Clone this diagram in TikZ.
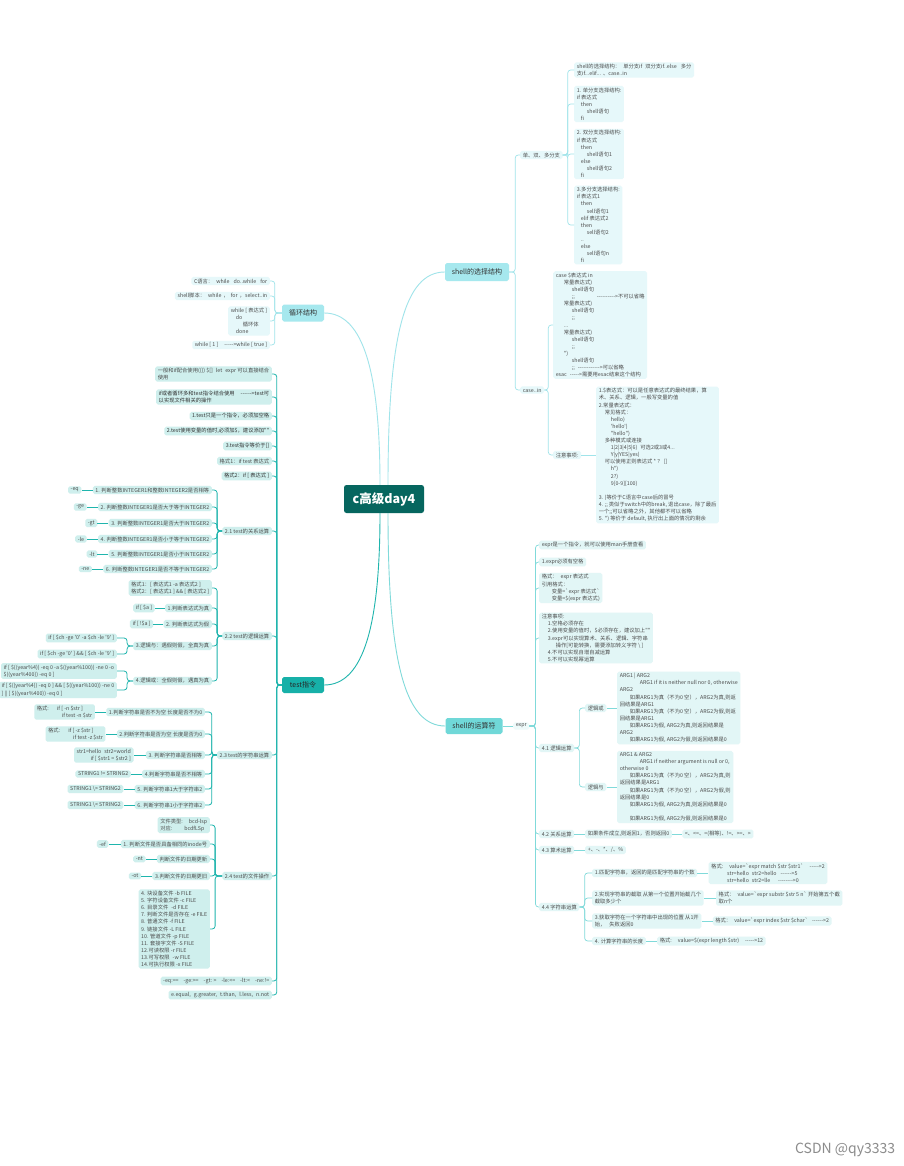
\documentclass[tikz,border=0pt]{standalone}
\usepackage{fontspec}
\setmainfont{Noto Sans CJK SC}[Ligatures=TeXOff]
\usetikzlibrary{calc}
\newcommand\fsm{\fontsize{5.3}{7.1}\selectfont}
\newcommand\fmid{\fontsize{7}{8}\selectfont}
\definecolor{rootf}{HTML}{06665F}
\definecolor{self}{HTML}{A6E8EE}
\definecolor{testf}{HTML}{17B0A8}
\definecolor{opf}{HTML}{70D8D8}
\definecolor{sbf}{HTML}{E6F8FA}
\definecolor{tbf}{HTML}{CFEFED}
\definecolor{obf}{HTML}{E2F6F6}
\definecolor{selc}{HTML}{A0E4EA}
\definecolor{testc}{HTML}{1FB5AD}
\definecolor{opc}{HTML}{80DADA}
\definecolor{txt}{HTML}{4D4D4D}
\begin{document}
\begin{tikzpicture}[x=1pt,y=-1pt,
 every node/.style={font=\fsm, text=txt, align=left, inner xsep=2.6pt, inner ysep=1.6pt, rounded corners=1.8pt},
 sb/.style={fill=sbf},
 tb/.style={fill=tbf},
 ob/.style={fill=obf},
 sl/.style={draw=selc, line width=0.7pt, rounded corners=3pt},
 tl/.style={draw=testc, line width=0.8pt, rounded corners=3pt},
 ol/.style={draw=opc, line width=0.7pt, rounded corners=3pt}]
\fill[white] (0,0) rectangle (903,1166);
\path[use as bounding box] (0,0) rectangle (903,1166);
\clip (0,0) rectangle (903,1166);

% ---------- main nodes
\node[fill=rootf, text=white, font=\fontsize{12.5}{14}\selectfont\bfseries, minimum width=80pt, minimum height=28pt, rounded corners=2.5pt] (root) at (384,499) {c高级day4};
\node[fill=self, font=\fmid, text=black!80, minimum width=64pt, minimum height=18pt] (sel) at (477,272) {shell的选择结构};
\node[fill=self, font=\fmid, text=black!80, minimum width=42pt, minimum height=17pt] (loop) at (303,313) {循环结构};
\node[fill=testf, font=\fmid, text=black!85, minimum width=42pt, minimum height=16pt] (test) at (303,685) {test指令};
\node[fill=opf, font=\fmid, text=black!80, minimum width=57pt, minimum height=16pt] (op) at (474,726) {shell的运算符};

\draw[selc, line width=0.9pt] ([xshift=4pt]root.north) .. controls +(0,-150) and +(-40,0) .. (sel.west);
\draw[selc, line width=0.9pt] ([xshift=-4pt]root.north) .. controls +(0,-110) and +(40,0) .. (loop.east);
\draw[testc, line width=0.9pt] ([xshift=-4pt]root.south) .. controls +(0,110) and +(40,0) .. (test.east);
\draw[opc, line width=0.9pt] ([xshift=4pt]root.south) .. controls +(0,150) and +(-40,0) .. (op.west);

% ---------- shell selection
\node[sb, anchor=west] (dsd) at (520,155) {单、双、多分支};
\node[sb, anchor=west] (casein) at (520,390) {case..in};
\foreach \c in {dsd,casein} \draw[sl] (sel.east) -- ++(6,0) |- (\c.west);

\node[sb, anchor=west] (s1) at (574,70) {shell的选择结构：\hspace{3pt}单分支if\hspace{3pt}双分支if..else\hspace{4pt}多分\\支if...elif...\hspace{2pt}、case..in};
\node[sb, anchor=west] (s2) at (574,104) {1. 单分支选择结构:\\if 表达式\\\hspace*{4pt}then\\\hspace*{10pt}shell语句\\\hspace*{4pt}fi};
\node[sb, anchor=west] (s3) at (574,154) {2. 双分支选择结构:\\if 表达式\\\hspace*{4pt}then\\\hspace*{10pt}shell语句1\\\hspace*{4pt}else\\\hspace*{10pt}shell语句2\\\hspace*{4pt}fi};
\node[sb, anchor=west] (s4) at (574,225) {3.多分支选择结构:\\if 表达式1\\\hspace*{4pt}then\\\hspace*{10pt}sell语句1\\\hspace*{4pt}elif 表达式2\\\hspace*{4pt}then\\\hspace*{10pt}sell语句2\\\hspace*{4pt}..\\\hspace*{4pt}else\\\hspace*{10pt}sell语句n\\\hspace*{4pt}fi};
\foreach \c in {s1,s2,s3,s4} \draw[sl] (dsd.east) -- ++(5,0) |- (\c.west);

\node[sb, anchor=west] (c1) at (553,325) {case \$表达式 in\\
\hspace*{8pt}常量表达式)\\
\hspace*{16pt}shell语句\\
\hspace*{16pt};;\hspace{22pt}---------->不可以省略\\
\hspace*{8pt}常量表达式)\\
\hspace*{16pt}shell语句\\
\hspace*{16pt};;\\
\hspace*{8pt}...\\
\hspace*{8pt}常量表达式)\\
\hspace*{16pt}shell语句\\
\hspace*{16pt};;\\
\hspace*{8pt}*)\\
\hspace*{16pt}shell语句\\
\hspace*{16pt};;\hspace{3pt}------------>可以省略\\
esac\hspace{3pt}----->需要用esac结束这个结构};
\node[sb, anchor=west] (c2) at (553,455) {注意事项:};
\foreach \c in {c1,c2} \draw[sl] (casein.east) -- ++(4,0) |- (\c.west);
\node[sb, anchor=west] (c3) at (596,455) {1.\$表达式：可以是任意表达式的最终结果，算\\
术、关系、逻辑，一般写变量的值\\
2.常量表达式：\\
\hspace*{6pt}常见格式：\\
\hspace*{12pt}hello)\\
\hspace*{12pt}'hello')\\
\hspace*{12pt}"hello")\\
\hspace*{6pt}多种模式或连接\\
\hspace*{12pt}1|2|3|4|5|6)\hspace{3pt}可选2或3或4...\\
\hspace*{12pt}Y|y|YES|yes)\\
\hspace*{6pt}可以使用正则表达式 * ？ []\\
\hspace*{12pt}h*)\\
\hspace*{12pt}2?)\\
\hspace*{12pt}9[0-9][100)\\
\mbox{}\\
3. )等价于C语言中case后的冒号\\
4. ;; 类似于switch中的break, 退出case，除了最后\\
一个;;可以省略之外，其他都不可以省略\\
5. *) 等价于 default, 执行出上面的情况的剩余};
\draw[sl] (c2.east) -- (c3.west);

% ---------- loop
\node[sb, anchor=east] (l1) at (270,281) {C语言：\hspace{3pt}while\hspace{4pt}do..while\hspace{4pt}for};
\node[sb, anchor=east] (l2) at (270,296) {shell脚本：\hspace{3pt}while\hspace{2pt}，\hspace{2pt}for\hspace{2pt}，select..in};
\node[sb, anchor=east] (l3) at (270,321) {while [ 表达式 ]\\\hspace*{5pt}do\\\hspace*{12pt}循环体\\\hspace*{5pt}done};
\node[sb, anchor=east] (l4) at (270,345) {while [ 1 ]\hspace{6pt}----->while [ true ]};
\foreach \c in {l1,l2,l3,l4} \draw[sl] (loop.west) -- ++(-7,0) |- (\c.east);

% ---------- test
\node[tb, anchor=east] (t1) at (272,374) {一般和if配合使用(()) \$[]\hspace{3pt}let\hspace{3pt}expr 可以直接结合\\使用};
\node[tb, anchor=east, text=black!80] (t2) at (272,397) {if或者循环多和test指令结合使用\hspace{6pt}------>test可\\以实现文件相关的操作};
\node[tb, anchor=east, text=black!80] (t3) at (272,416) {1.test只是一个指令，必须加空格};
\node[tb, anchor=east, text=black!80] (t4) at (272,431) {2.test使用变量的值时,必须加\$，建议添加""};
\node[tb, anchor=east, text=black!80] (t5) at (272,446) {3.test指令等价于[]};
\node[tb, anchor=east] (t6) at (272,461) {格式1：if test 表达式};
\node[tb, anchor=east, text=black!80] (t7) at (272,476) {格式2：if [ 表达式 ]};
\node[tb, anchor=east] (t21) at (272,531) {2.1 test的关系运算};
\node[tb, anchor=east] (t22) at (272,636) {2.2 test的逻辑运算};
\node[tb, anchor=east] (t23) at (272,755) {2.3 test的字符串运算};
\node[tb, anchor=east] (t24) at (272,876) {2.4 test的文件操作};
\node[tb, anchor=east] (t8) at (272,981) {-eq:==\hspace{5pt}-ge:>=\hspace{5pt}-gt: >\hspace{5pt}-le:<=\hspace{5pt}-lt:<\hspace{5pt}-ne:!=};
\node[tb, anchor=east] (t9) at (272,995) {e.equal,\hspace{3pt}g.greater,\hspace{3pt}t.than,\hspace{3pt}l.less,\hspace{3pt}n.not};
\foreach \c in {t1,t2,t3,t4,t5,t6,t7,t21,t22,t23,t24,t8,t9} \draw[tl] (test.west) -- ++(-5,0) |- (\c.east);

% 2.1
\node[tb, anchor=east] (r1) at (212,490) {1. 判断整数INTEGER1和整数INTEGER2是否相等};
\node[tb, anchor=east] (r2) at (212,507) {2. 判断整数INTEGER1是否大于等于INTEGER2};
\node[tb, anchor=east] (r3) at (212,523) {3. 判断整数INTEGER1是否大于INTEGER2};
\node[tb, anchor=east] (r4) at (212,539) {4. 判断整数INTEGER1是否小于等于INTEGER2};
\node[tb, anchor=east] (r5) at (212,554) {5. 判断整数INTEGER1是否小于INTEGER2};
\node[tb, anchor=east] (r6) at (212,569) {6. 判断整数INTEGER1是否不等于INTEGER2};
\foreach \c in {r1,r2,r3,r4,r5,r6} \draw[tl] (t21.west) -- ++(-5,0) |- (\c.east);
\node[tb, anchor=east] (r1a) at ([xshift=-11pt]r1.west) {-eq};
\node[tb, anchor=east] (r2a) at ([xshift=-11pt]r2.west) {-ge};
\node[tb, anchor=east] (r3a) at ([xshift=-11pt]r3.west) {-gt};
\node[tb, anchor=east] (r4a) at ([xshift=-11pt]r4.west) {-le};
\node[tb, anchor=east] (r5a) at ([xshift=-11pt]r5.west) {-lt};
\node[tb, anchor=east] (r6a) at ([xshift=-11pt]r6.west) {-ne};
\foreach \c in {1,...,6} \draw[tl] (r\c.west) -- (r\c a.east);

% 2.2
\node[tb, anchor=east] (g1) at (212,588) {格式1：[ 表达式1 -a 表达式2 ]\\格式2：[ 表达式1 ] \&\& [ 表达式2 ]};
\node[tb, anchor=east] (g2) at (212,608) {1.判断表达式为真};
\node[tb, anchor=east] (g3) at (212,624) {2. 判断表达式为假};
\node[tb, anchor=east] (g4) at (212,646) {3.逻辑与：遇假则假，全真为真};
\node[tb, anchor=east] (g5) at (212,681) {4.逻辑或：全假则假，遇真为真};
\foreach \c in {g1,g2,g3,g4,g5} \draw[tl] (t22.west) -- ++(-5,0) |- (\c.east);
\node[tb, anchor=east] (g2a) at ([xshift=-10pt]g2.west) {if [ \$a ]};
\node[tb, anchor=east] (g3a) at ([xshift=-10pt]g3.west) {if [ !\$a ]};
\draw[tl] (g2.west) -- (g2a.east);
\draw[tl] (g3.west) -- (g3a.east);
\node[tb, anchor=east] (g4a) at (117,638) {if [ \$ch -ge '0' -a \$ch -le '9' ]};
\node[tb, anchor=east] (g4b) at (117,654) {if [ \$ch -ge '0' ] \&\& [ \$ch -le '9' ]};
\node[tb, anchor=east] (g5a) at (117,671) {if [ \$((year\%4)) -eq 0 -a \$((year\%100)) -ne 0 -o\\\$((year\%400)) -eq 0 ]};
\node[tb, anchor=east] (g5b) at (117,690) {if [ \$((year\%4)) -eq 0 ] \&\& [ \$((year\%100)) -ne 0\\] || [ \$((year\%400)) -eq 0 ]};
\foreach \c in {g4a,g4b} \draw[tl] (g4.west) -- ++(-6,0) |- (\c.east);
\foreach \c in {g5a,g5b} \draw[tl] (g5.west) -- ++(-6,0) |- (\c.east);

% 2.3
\node[tb, anchor=east] (q1) at (205,712) {1.判断字符串是否不为空 长度是否不为0};
\node[tb, anchor=east] (q2) at (205,734) {2.判断字符串是否为空 长度是否为0};
\node[tb, anchor=east] (q3) at (205,755) {3. 判断字符串是否相等};
\node[tb, anchor=east] (q4) at (205,774) {4.判断字符串是否不相等};
\node[tb, anchor=east] (q5) at (205,789) {5. 判断字符串1大于字符串2};
\node[tb, anchor=east] (q6) at (205,805) {6. 判断字符串1小于字符串2};
\foreach \c in {q1,q2,q3,q4,q5,q6} \draw[tl] (t23.west) -- ++(-5,0) |- (\c.east);
\node[tb, anchor=east] (q1a) at ([xshift=-11pt]q1.west) {格式:\hspace{8pt}if [ -n \$str ]\\\hspace*{25pt}if test -n \$str};
\node[tb, anchor=east] (q2a) at ([xshift=-11pt]q2.west) {格式:\hspace{8pt}if [ -z \$str ]\\\hspace*{25pt}if test -z \$str};
\node[tb, anchor=east] (q3a) at ([xshift=-12pt]q3.west) {str1=hello\hspace{3pt}str2=world\\\hspace*{14pt}if [ \$str1 = \$str2 ]};
\node[tb, anchor=east] (q4a) at ([xshift=-11pt]q4.west) {STRING1 != STRING2};
\node[tb, anchor=east] (q5a) at ([xshift=-11pt]q5.west) {STRING1 \textbackslash> STRING2};
\node[tb, anchor=east] (q6a) at ([xshift=-11pt]q6.west) {STRING1 \textbackslash< STRING2};
\foreach \c in {1,...,6} \draw[tl] (q\c.west) -- (q\c a.east);

% 2.4
\node[tb, anchor=east] (f1) at (210,825) {文件类型:\hspace{6pt}bcd-lsp\\对应:\hspace{12pt}bcdfLSp};
\node[tb, anchor=east] (f2) at (210,844) {1. 判断文件是否具备相同的inode号};
\node[tb, anchor=east] (f3) at (210,859) {判断文件的日期更新};
\node[tb, anchor=east] (f4) at (210,876) {3.判断文件的日期更旧};
\node[tb, anchor=east] (f5) at (210,929) {4. 块设备文件 -b FILE\\5. 字符设备文件 -c FILE\\6. 目录文件\hspace{3pt}-d FILE\\7. 判断文件是否存在 -e FILE\\8. 普通文件 -f FILE\\9. 链接文件 -L FILE\\10. 管道文件 -p FILE\\11. 套接字文件 -S FILE\\12.可读权限 -r FILE\\13.可写权限\hspace{3pt}-w FILE\\14.可执行权限 -x FILE};
\foreach \c in {f1,f2,f3,f4,f5} \draw[tl] (t24.west) -- ++(-7,0) |- (\c.east);
\node[tb, anchor=east] (f2a) at ([xshift=-12pt]f2.west) {-ef};
\node[tb, anchor=east] (f3a) at ([xshift=-11pt]f3.west) {-nt};
\node[tb, anchor=east] (f4a) at ([xshift=-11pt]f4.west) {-ot};
\foreach \c in {2,3,4} \draw[tl] (f\c.west) -- (f\c a.east);

% ---------- operators
\node[fill=obf!60, anchor=west] (expr) at (513,726) {expr};
\draw[ol] (op.east) -- (expr.west);
\node[ob, anchor=west] (o1) at (539,545) {expr是一个指令，就可以使用man手册查看};
\node[ob, anchor=west] (o2) at (539,562) {1.expr必须有空格};
\node[ob, anchor=west] (o3) at (539,588) {格式：\hspace{3pt}expr 表达式\\引用格式：\\\hspace*{10pt}变量=`expr 表达式`\\\hspace*{10pt}变量=\$(expr 表达式)};
\node[ob, anchor=west] (o4) at (539,638) {注意事项:\\\hspace*{6pt}1.空格必须存在\\\hspace*{6pt}2.使用变量的值时，\$必须存在，建议加上""\\\hspace*{6pt}3.expr可以实现算术、关系、逻辑、字符串\\\hspace*{14pt}操作[可能转换，需要添加转义字符 \textbackslash\ ]\\\hspace*{6pt}4.不可以实现自增自减运算\\\hspace*{6pt}5.不可以实现幂运算};
\node[ob, anchor=west] (o41) at (539,748) {4.1 逻辑运算};
\node[ob, anchor=west] (o42) at (539,834) {4.2 关系运算};
\node[ob, anchor=west] (o43) at (539,850) {4.3 算术运算};
\node[ob, anchor=west] (o44) at (539,907) {4.4 字符串运算};
\foreach \c in {o1,o2,o3,o4,o41,o42,o43,o44} \draw[ol] (expr.east) -- ++(6,0) |- (\c.west);

\node[ob, anchor=west] (lor) at (585,708) {逻辑或};
\node[ob, anchor=west] (land) at (585,787) {逻辑与};
\foreach \c in {lor,land} \draw[ol] (o41.east) -- ++(5,0) |- (\c.west);
\node[ob, anchor=west] (lorb) at (617,708) {ARG1 | ARG2\\\hspace*{20pt}ARG1 if it is neither null nor 0, otherwise\\ARG2\\\hspace*{10pt}如果ARG1为真（不为0 空），ARG2为真,则返\\回结果是ARG1\\\hspace*{10pt}如果ARG1为真（不为0 空），ARG2为假,则返\\回结果是ARG1\\\hspace*{10pt}如果ARG1为假, ARG2为真,则返回结果是\\ARG2\\\hspace*{10pt}如果ARG1为假, ARG2为假,则返回结果是0};
\node[ob, anchor=west] (landb) at (617,787) {ARG1 \& ARG2\\\hspace*{20pt}ARG1 if neither argument is null or 0,\\otherwise 0\\\hspace*{10pt}如果ARG1为真（不为0 空），ARG2为真,则\\返回结果是ARG1\\\hspace*{10pt}如果ARG1为真（不为0 空），ARG2为假,则\\返回结果是0\\\hspace*{10pt}如果ARG1为假, ARG2为真,则返回结果是0\\\mbox{}\\\hspace*{10pt}如果ARG1为假, ARG2为假,则返回结果是0};
\draw[ol] (lor.east) -- (lorb.west);
\draw[ol] (land.east) -- (landb.west);

\node[ob, anchor=west] (o42a) at (585,834) {如果条件成立,则返回1，否则返回0};
\node[ob, anchor=west] (o42b) at ([xshift=10pt]o42a.east) {<、<=、=(相等)、!=、>=、>};
\draw[ol] (o42.east) -- (o42a.west);
\draw[ol] (o42a.east) -- (o42b.west);
\node[ob, anchor=west] (o43a) at (585,850) {+、-、*、/、\%};
\draw[ol] (o43.east) -- (o43a.west);

\node[ob, anchor=west] (m1) at (592,873) {1.匹配字符串，返回的是匹配字符串的个数};
\node[ob, anchor=west] (m2) at (592,898) {2.实现字符串的截取 从第一个位置开始截几个\\截取多少个};
\node[ob, anchor=west] (m3) at (592,921) {3.获取字符在一个字符串中出现的位置 从1开\\始，\hspace{4pt}失败返回0};
\node[ob, anchor=west] (m4) at (592,941) {4. 计算字符串的长度};
\foreach \c in {m1,m2,m3,m4} \draw[ol] (o44.east) -- ++(5,0) |- (\c.west);
\node[ob, anchor=west] (m1a) at ([xshift=11pt]m1.east) {格式:\hspace{6pt}value=`expr match \$str \$str1`\hspace{6pt}----->2\\\hspace*{16pt}str=hello\hspace{3pt}str2=hello\hspace{4pt}------>5\\\hspace*{16pt}str=hello\hspace{3pt}str2=lle\hspace{8pt}-------->0};
\node[ob, anchor=west] (m2a) at ([xshift=12pt]m2.east) {格式：\hspace{3pt}value=`expr substr \$str 5 n` 开始第五个截\\取n个};
\node[ob, anchor=west] (m3a) at ([xshift=11pt]m3.east) {格式：\hspace{3pt}value=`expr index \$str \$char`\hspace{4pt}------>2};
\node[ob, anchor=west] (m4a) at ([xshift=11pt]m4.east) {格式:\hspace{6pt}value=\$(expr length \$str)\hspace{6pt}----->12};
\foreach \c in {1,...,4} \draw[ol] (m\c.east) -- (m\c a.west);

% watermark
\node[anchor=east, text=black!45, font=\fontsize{14}{16}\selectfont, fill=none] (wm) at (898,1150) {CSDN @qy3333};
\end{tikzpicture}
\end{document}
